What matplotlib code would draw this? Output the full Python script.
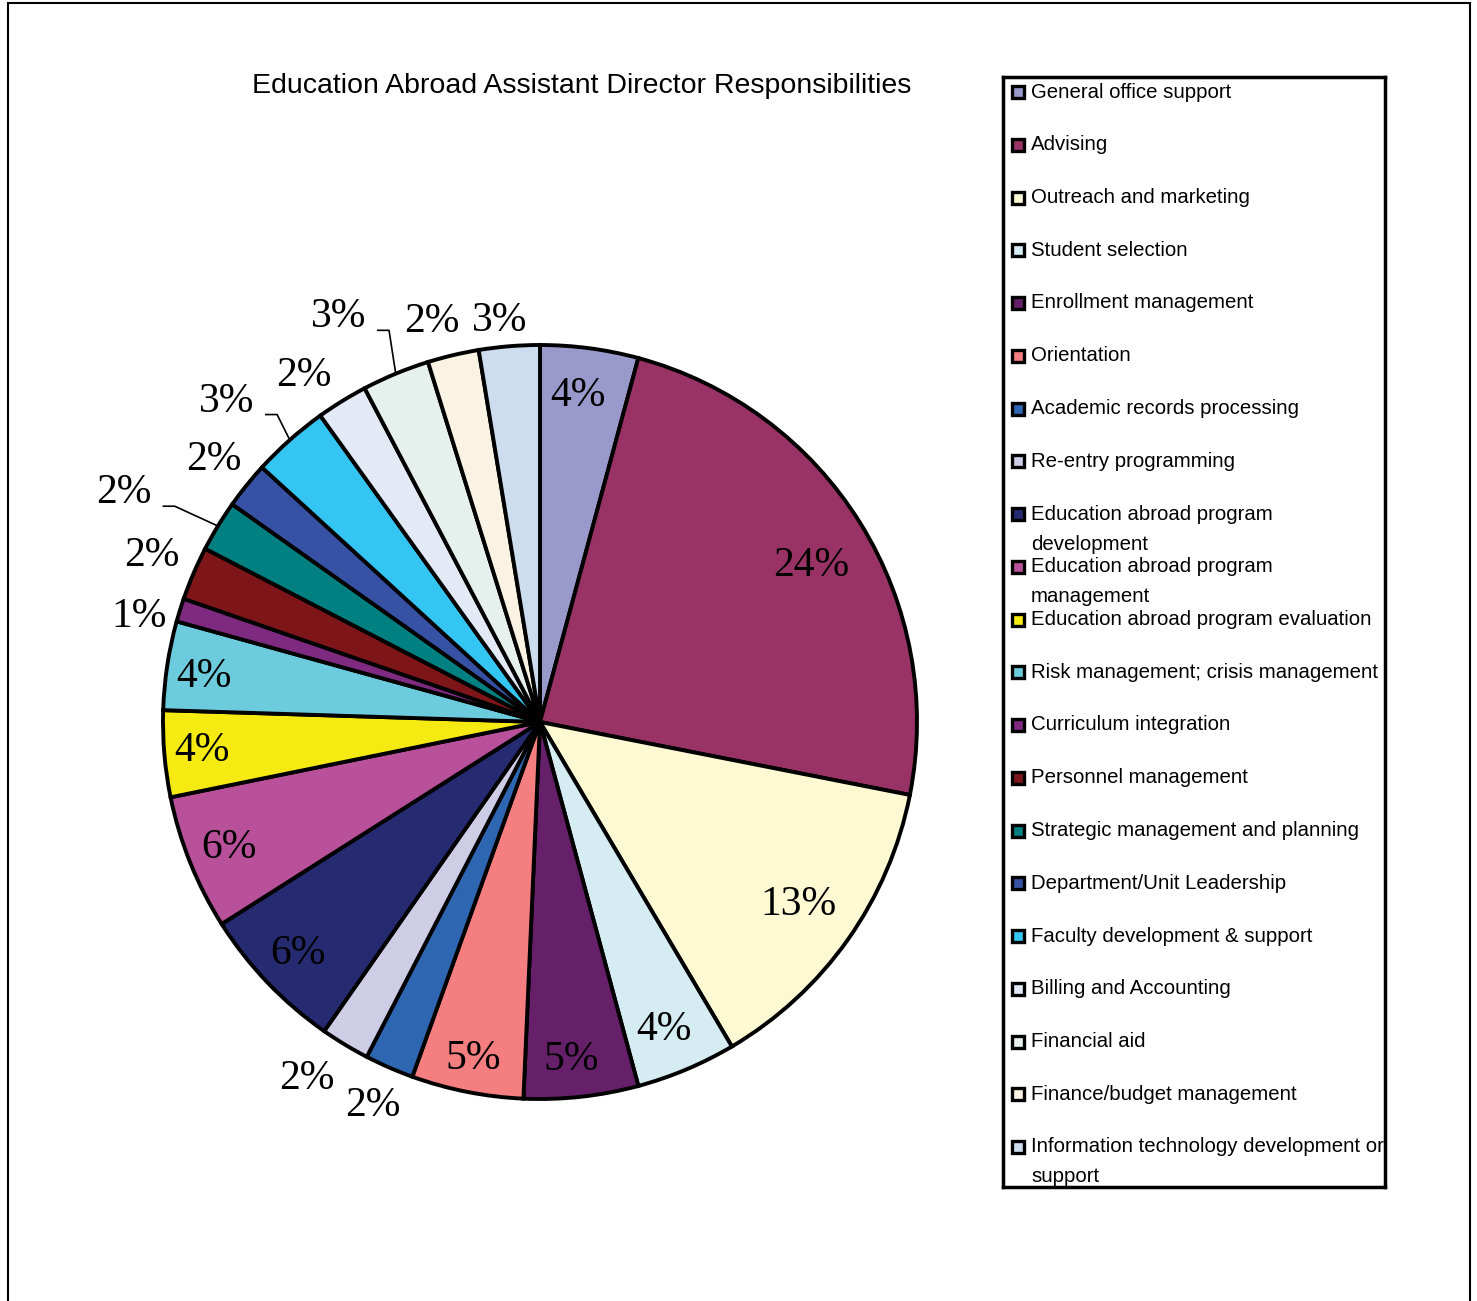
import numpy as np
import matplotlib
matplotlib.use("Agg")
import matplotlib.pyplot as plt
from matplotlib.patches import Rectangle

# slice shares (percent), clockwise from 12 o'clock
categories = [
    "General office support",
    "Advising",
    "Outreach and marketing",
    "Student selection",
    "Enrollment management",
    "Orientation",
    "Academic records processing",
    "Re-entry programming",
    "Education abroad program\ndevelopment",
    "Education abroad program\nmanagement",
    "Education abroad program evaluation",
    "Risk management; crisis management",
    "Curriculum integration",
    "Personnel management",
    "Strategic management and planning",
    "Department/Unit Leadership",
    "Faculty development & support",
    "Billing and Accounting",
    "Financial aid",
    "Finance/budget management",
    "Information technology development or\nsupport",
]
shares = [4.2, 23.9, 13.4, 4.3, 4.9, 4.8, 2.1, 2.1, 6.3, 5.8, 3.7,
          3.8, 1.0, 2.3, 2.2, 2.0, 3.3, 2.2, 2.9, 2.2, 2.6]
colors = ['#9999CC', '#993366', '#FDF9D3', '#D4ECF2', '#66206A', '#F47E80',
          '#2E66B2', '#CFCCE6', '#262A70', '#B8509A', '#F5EB12', '#6CCBDC',
          '#7E2A80', '#7E1619', '#008080', '#3752A4', '#35C5F2', '#E3EAF6',
          '#E6F0EC', '#FAF2E2', '#CCDDEF']

# label placement: distance from centre (radii), angle nudge (deg, ccw)
label_r = [0.87, 0.83, 0.84, 0.88, 0.90, 0.91, 1.11, 1.13, 0.89, 0.89, 0.90,
           0.90, 1.10, 1.12, 1.26, 1.11, 1.19, 1.11, 1.20, 1.10, 1.07]
label_da = [1, -2, 0, -1, -1, 0, 0, -2, 0, 0, 0,
            1, 2.6, 0, 2.5, 0, 2.8, 2.6, 4, 1.8, 1]
leader = {14, 16, 18}

W, H = 1477, 1301
fig = plt.figure(figsize=(W / 100, H / 100), dpi=100)


def fx(x):
    return x / W


def fy(y):
    return 1 - y / H


# outer frame
fig.add_artist(Rectangle((fx(8), fy(1320)), fx(1470) - fx(8), fy(3) - fy(1320),
                         transform=fig.transFigure, fill=False,
                         edgecolor='black', linewidth=1.5))

# pie axes: centre (540, 722) px, radius 377 px
cx, cy, rad = 540, 722, 377
lim = 1.4
half = rad * lim
ax = fig.add_axes([fx(cx - half), fy(cy + half), 2 * half / W, 2 * half / H])
wedges, _ = ax.pie(shares, colors=colors, startangle=90, counterclock=False,
                   radius=1.0,
                   wedgeprops=dict(edgecolor='black', linewidth=2.8))
ax.set_xlim(-lim, lim)
ax.set_ylim(-lim, lim)
ax.axis('off')

for i, w in enumerate(wedges):
    mid = np.deg2rad((w.theta1 + w.theta2) / 2)
    ang = mid + np.deg2rad(label_da[i])
    r = label_r[i]
    tx, ty = r * np.cos(ang), r * np.sin(ang)
    ax.text(tx, ty, f"{shares[i]:.0f}%", ha='center', va='center',
            fontsize=30, family=['Liberation Serif', 'DejaVu Serif'])
    if i in leader:
        sx, sy = tx + 0.105, ty - 0.035
        ex, ey = np.cos(mid), np.sin(mid)
        ax.plot([sx, sx + 0.03, ex], [sy, sy, ey], color='black', lw=1.2)

sans = ['Liberation Sans', 'DejaVu Sans']

fig.text(fx(582), fy(86), "Education Abroad Assistant Director Responsibilities",
         ha='center', va='center', fontsize=20.5, family=sans)

# legend box
bx0, by0, bx1, by1 = 1003, 77, 1385, 1187
lax = fig.add_axes([fx(bx0), fy(by1), (bx1 - bx0) / W, (by1 - by0) / H])
lax.set_xlim(0, bx1 - bx0)
lax.set_ylim(by1 - by0, 0)
lax.set_xticks([])
lax.set_yticks([])
for s in lax.spines.values():
    s.set_linewidth(2.5)

step = (1146 - 91) / 20
for i, name in enumerate(categories):
    yc = 92 - by0 + i * step
    lax.add_patch(Rectangle((9, yc - 6), 12, 12, facecolor=colors[i],
                            edgecolor='black', linewidth=2.4, clip_on=False))
    for k, line in enumerate(name.split("\n")):
        lax.text(28, yc + k * 30, line, ha='left', va='center', fontsize=14.7,
                 family=sans, clip_on=True)

fig.savefig("out.png", dpi=100)
